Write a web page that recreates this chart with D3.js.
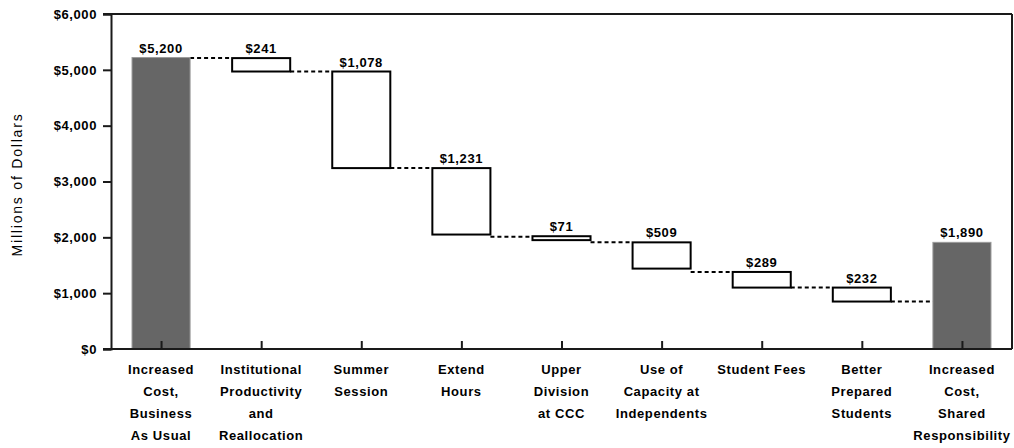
<!DOCTYPE html>
<html>
<head>
<meta charset="utf-8">
<script src="https://cdn.jsdelivr.net/npm/d3@7"></script>
<style>
  html, body { margin: 0; padding: 0; background: #fff; }
  svg { display: block; }
  text { font-family: "Liberation Sans", Arial, sans-serif; fill: #000; }
</style>
</head>
<body>
<svg id="chart" width="1014" height="448"></svg>
<script>
// ---- Data ----
const categories = [
  ["Increased", "Cost,", "Business", "As Usual"],
  ["Institutional", "Productivity", "and", "Reallocation"],
  ["Summer", "Session"],
  ["Extend", "Hours"],
  ["Upper", "Division", "at CCC"],
  ["Use of", "Capacity at", "Independents"],
  ["Student Fees"],
  ["Better", "Prepared", "Students"],
  ["Increased", "Cost,", "Shared", "Responsibility"]
];
const barTops    = [5220, 5210, 4970, 3240, 2020, 1910, 1380, 1100, 1910];
const barBottoms = [0,    4970, 3240, 2050, 1950, 1440, 1100, 850,  0];
const barKinds   = ["total", "step", "step", "step", "step", "step", "step", "step", "total"];
const valueLabels = ["$5,200", "$241", "$1,078", "$1,231", "$71", "$509", "$289", "$232", "$1,890"];
const connectorLevels = [5210, 4970, 3240, 2010, 1910, 1380, 1100, 850];
const yTicks = [0, 1000, 2000, 3000, 4000, 5000, 6000];
const yTitle = "Millions of Dollars";

// ---- Layout ----
const svg = d3.select("#chart");
const plotLeft = 111, plotRight = 1012, plotTop = 14, plotBottom = 349;
const idx = categories.map((d, i) => i);

const x = d3.scalePoint().domain(idx).range([plotLeft, plotRight]).padding(0.5);
const barW = x.step() * 0.58;
const y = d3.scaleLinear().domain([0, 6000]).range([plotBottom, plotTop]);

const axisColor = "#1a1a1a";
const fontSize = "13px", fontWeight = "bold", spacing = "0.6px";

// connectors (dashed)
svg.append("g").selectAll("line").data(connectorLevels).join("line")
  .attr("x1", (d, i) => x(i) + barW / 2)
  .attr("x2", (d, i) => x(i + 1) - barW / 2)
  .attr("y1", d => y(d)).attr("y2", d => y(d))
  .attr("stroke", "#000").attr("stroke-width", 2)
  .attr("stroke-dasharray", "4,3");

// bars
svg.append("g").selectAll("rect").data(idx).join("rect")
  .attr("x", i => x(i) - barW / 2)
  .attr("width", barW)
  .attr("y", i => y(barTops[i]))
  .attr("height", i => y(barBottoms[i]) - y(barTops[i]))
  .attr("fill", i => barKinds[i] === "total" ? "#666666" : "#ffffff")
  .attr("stroke", i => barKinds[i] === "total" ? "#9a9a9a" : "#000")
  .attr("stroke-width", i => barKinds[i] === "total" ? 1 : 2);

// value labels
svg.append("g").selectAll("text").data(idx).join("text")
  .attr("x", i => x(i))
  .attr("y", i => y(barTops[i]) - 5)
  .attr("text-anchor", "middle")
  .style("font-size", fontSize).style("font-weight", fontWeight)
  .style("letter-spacing", spacing)
  .text(i => valueLabels[i]);

// frame: top and right
svg.append("line").attr("x1", plotLeft - 8).attr("x2", plotRight).attr("y1", plotTop).attr("y2", plotTop)
  .attr("stroke", axisColor).attr("stroke-width", 2);
svg.append("line").attr("x1", plotRight).attr("x2", plotRight).attr("y1", plotTop).attr("y2", plotBottom)
  .attr("stroke", axisColor).attr("stroke-width", 2);

// y axis
const yAxis = d3.axisLeft(y).tickValues(yTicks).tickSize(8).tickPadding(6)
  .tickFormat(d => "$" + d3.format(",")(d));
const gy = svg.append("g").attr("transform", `translate(${plotLeft},0)`).call(yAxis);
gy.select(".domain").attr("stroke", axisColor).attr("stroke-width", 2);
gy.selectAll(".tick line").attr("stroke", axisColor).attr("stroke-width", 2);
gy.selectAll(".tick text").style("font-size", fontSize).style("font-weight", fontWeight)
  .style("letter-spacing", spacing)
  .style("font-family", "'Liberation Sans', Arial, sans-serif").attr("fill", "#000");

// x axis (ticks pointing inward)
const xAxis = d3.axisBottom(x).tickSize(-8).tickFormat("");
const gx = svg.append("g").attr("transform", `translate(0,${plotBottom})`).call(xAxis);
gx.select(".domain").attr("stroke", axisColor).attr("stroke-width", 2)
  .attr("d", `M${plotLeft - 8},0H${plotRight}`);
gx.selectAll(".tick line").attr("stroke", axisColor).attr("stroke-width", 2);

// category labels
const catG = svg.append("g").selectAll("text").data(idx).join("text")
  .attr("x", i => x(i))
  .attr("y", 374)
  .attr("text-anchor", "middle")
  .style("font-size", fontSize).style("font-weight", fontWeight)
  .style("letter-spacing", spacing);
catG.selectAll("tspan").data(i => categories[i]).join("tspan")
  .attr("x", function() { return d3.select(this.parentNode).attr("x"); })
  .attr("dy", (d, j) => j === 0 ? 0 : 22)
  .text(d => d);

// y title
svg.append("text")
  .attr("transform", `translate(22,${(plotTop + plotBottom) / 2 + 3}) rotate(-90)`)
  .attr("text-anchor", "middle")
  .style("font-size", "14px")
  .style("letter-spacing", "1.8px")
  .text(yTitle);
</script>
</body>
</html>
